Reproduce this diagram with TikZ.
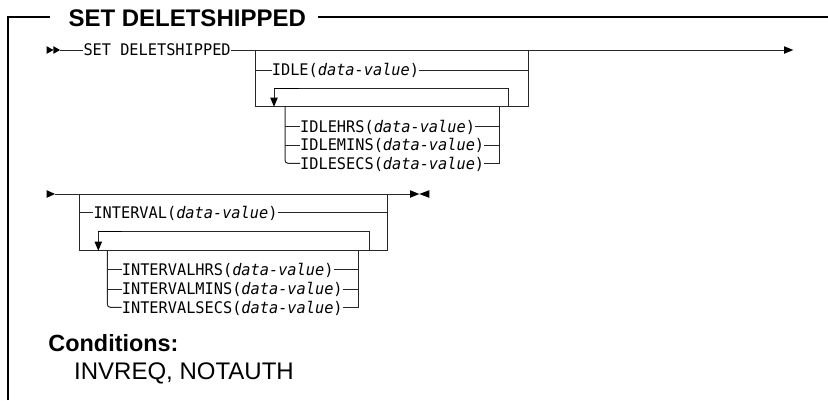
\documentclass[tikz,border=0pt]{standalone}
\usepackage{fontspec}
\setmainfont{Liberation Sans}
\newfontfamily\synfont[FakeStretch=0.955]{DejaVu Sans Mono}
\begin{document}
\begin{tikzpicture}[x=1pt,y=-1pt,
  rail/.style={line width=1pt, draw=black!85, line cap=butt},
  frameline/.style={line width=1.2pt, draw=black},
  syn/.style={font=\synfont\fontsize{16pt}{16pt}\selectfont, inner sep=0pt,
              text height=11.66pt, text depth=0pt, anchor=west},
  titlefont/.style={font=\bfseries\fontsize{24pt}{24pt}\selectfont, inner sep=0pt,
              text height=17.2pt, text depth=0pt, anchor=west},
  rtri/.pic={\fill[black] (0,-3.8) -- (#1,0) -- (0,3.8) -- cycle;},
  rtri/.default=7,
  ltri/.pic={\fill[black] (0,-3.8) -- (-#1,0) -- (0,3.8) -- cycle;},
  ltri/.default=9,
  dtri/.pic={\fill[black] (-3.8,-9) -- (3.8,-9) -- (0,0) -- cycle;},
]
\useasboundingbox (0,0) rectangle (828,400);

% ---------- frame and title ----------
\node[titlefont] (title) at (68.3,18.3) {SET DELETSHIPPED};
\coordinate (fbl) at (8,400);
\coordinate (ftl) at (8,17);
\coordinate (ftr) at (828,17);
\draw[frameline] (fbl) -- (ftl) -- (50,17);
\draw[frameline] (318,17) -- (ftr);

% ---------- row 1 ----------
\pic at (46.7,50) {rtri=6.7};
\pic at (53.4,50) {rtri=6.7};
\node[syn] (sd) at (83.3,50) {SET DELETSHIPPED};
\coordinate (r1s) at (60,50);
\coordinate (r1e) at (784,50);
\draw[rail] (r1s) -- (sd.west);
\draw[rail] (sd.east) -- (r1e);
\pic at (r1e) {rtri=9.3};

\coordinate (aL) at (255,50);
\coordinate (aR) at (528,50);
\coordinate (aLb) at (255,106.7);
\coordinate (aRb) at (528,106.7);
\draw[rail] (aL) -- (aLb) -- (aRb) -- (aR);

\node[syn] (idle) at (271.7,70) {IDLE(\textit{data-value})};
\draw[rail] (idle.west -| aL) -- (idle.west);
\draw[rail] (idle.east) -- (idle.east -| aR);

% repeat loop
\coordinate (lpA) at (274,106.7);
\coordinate (lpB) at (508,106.7);
\draw[rail] (lpA |- 0,88.3) -- (lpB |- 0,88.3) -- (lpB);
\draw[rail] (lpA |- 0,88.3) -- (274,99);
\draw[line width=1.5pt, draw=black] (274,88.3) -- (299,88.3);
\pic at (lpA) {dtri};

% inner choice
\coordinate (iL) at (285,106.7);
\coordinate (iR) at (499.3,106.7);
\node[syn] (hrs)  at (300,126.7) {IDLEHRS(\textit{data-value})};
\node[syn] (mins) at (300,145)   {IDLEMINS(\textit{data-value})};
\node[syn] (secs) at (300,163.3) {IDLESECS(\textit{data-value})};
\draw[rail, rounded corners=3pt] (iL) |- (secs.west);
\draw[rail] (hrs.west -| iL) -- (hrs.west);
\draw[rail] (mins.west -| iL) -- (mins.west);
\draw[rail] (secs.east) -| (iR);
\draw[rail] (hrs.east) -- (hrs.east -| iR);
\draw[rail] (mins.east) -- (mins.east -| iR);

% ---------- row 2 ----------
\coordinate (r2s) at (55,194);
\coordinate (r2e) at (410,194);
\pic at (46.7,194) {rtri=8.3};
\draw[rail] (r2s) -- (r2e);
\pic at (r2e) {rtri=9.3};
\pic at (429.3,194) {ltri=10};

\coordinate (bL) at (79.3,194);
\coordinate (bR) at (387.3,194);
\coordinate (bLb) at (79.3,250.7);
\coordinate (bRb) at (387.3,250.7);
\draw[rail] (bL) -- (bLb) -- (bRb) -- (bR);

\node[syn] (intv) at (93.3,212.7) {INTERVAL(\textit{data-value})};
\draw[rail] (intv.west -| bL) -- (intv.west);
\draw[rail] (intv.east) -- (intv.east -| bR);

\coordinate (lqA) at (98.3,250.7);
\coordinate (lqB) at (369,250.7);
\draw[rail] (lqA |- 0,231.7) -- (lqB |- 0,231.7) -- (lqB);
\draw[rail] (lqA |- 0,231.7) -- (98.3,243);
\draw[line width=1.5pt, draw=black] (98.3,231.7) -- (121.7,231.7);
\pic at (lqA) {dtri};

\coordinate (jL) at (107.3,250.7);
\coordinate (jR) at (358.3,250.7);
\node[syn] (ihrs)  at (121.7,269.7) {INTERVALHRS(\textit{data-value})};
\node[syn] (imins) at (121.7,289)   {INTERVALMINS(\textit{data-value})};
\node[syn] (isecs) at (121.7,307.3) {INTERVALSECS(\textit{data-value})};
\draw[rail, rounded corners=3pt] (jL) |- (isecs.west);
\draw[rail] (ihrs.west -| jL) -- (ihrs.west);
\draw[rail] (imins.west -| jL) -- (imins.west);
\draw[rail] (isecs.east) -| (jR);
\draw[rail] (ihrs.east) -- (ihrs.east -| jR);
\draw[rail] (imins.east) -- (imins.east -| jR);

% ---------- conditions ----------
\node[font=\bfseries\fontsize{23.4pt}{23.4pt}\selectfont, inner sep=0pt, anchor=base west]
  (cond) at (48.3,351.7) {Conditions:};
\node[font=\fontsize{24pt}{24pt}\selectfont, inner sep=0pt, anchor=base west]
  (condlist) at (74,379) {INVREQ, NOTAUTH};
\end{tikzpicture}
\end{document}
